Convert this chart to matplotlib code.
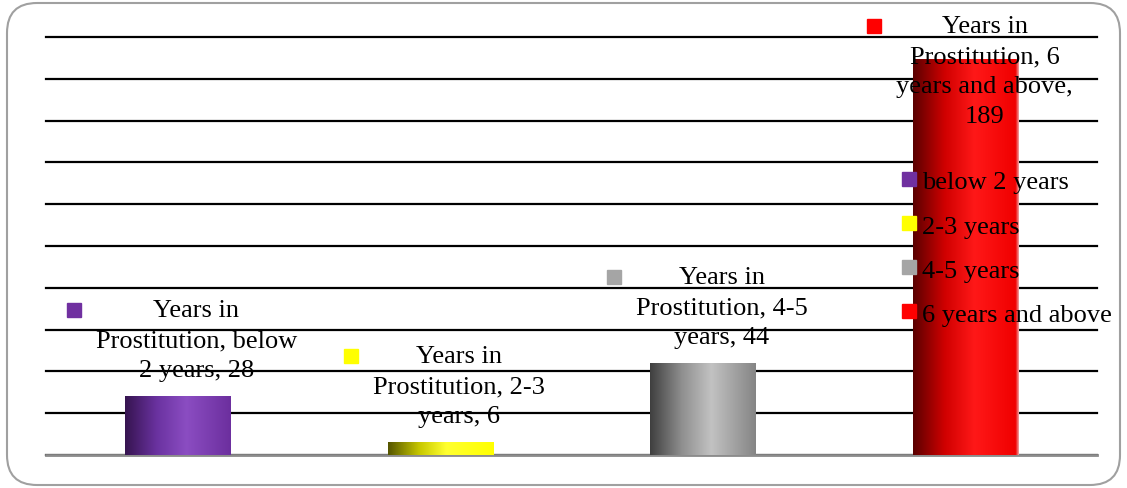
import textwrap
import matplotlib
matplotlib.use('Agg')
import matplotlib.pyplot as plt
import numpy as np
from matplotlib.colors import LinearSegmentedColormap
from matplotlib.lines import Line2D
from matplotlib.patches import FancyBboxPatch
from matplotlib.transforms import IdentityTransform

#======= Data =========================
series_name = 'Years in Prostitution'
categories = ['below 2 years', '2-3 years', '4-5 years', '6 years and above']
values = [28, 6, 44, 189]

#======= Style ========================
key_colors = ['#7030a0', '#ffff00', '#a5a5a5', '#ff0000']
gradients = [
    [(0, '#361450'), (0.3, '#6a32a0'), (0.58, '#8b4dc2'), (1, '#6c2f9e')],
    [(0, '#555500'), (0.3, '#c8c800'), (0.55, '#ffff30'), (1, '#ffff00')],
    [(0, '#3f3f3f'), (0.3, '#8f8f8f'), (0.58, '#c2c2c2'), (1, '#858585')],
    [(0, '#5a0000'), (0.3, '#d00000'), (0.58, '#ff1818'), (0.97, '#f00000'), (1, '#f0a0a0')],
]
fs = 19
plt.rcParams['font.family'] = 'Liberation Serif'

W, H = 1127, 489
fig = plt.figure(figsize=(W / 100, H / 100), dpi=100)
ax = fig.add_axes([46 / W, 33 / H, 1051 / W, 418 / H])

x = np.arange(len(categories))
bars = ax.bar(x, values, width=0.4, color='none', zorder=3)
for bar, stops in zip(bars, gradients):
    cmap = LinearSegmentedColormap.from_list('g', stops)
    x0, w, h = bar.get_x(), bar.get_width(), bar.get_height()
    ax.imshow(np.linspace(0, 1, 256)[None, :], cmap=cmap,
              extent=(x0, x0 + w, 0, h), aspect='auto', zorder=3)

ax.set_xlim(-0.5, len(categories) - 0.5)
ax.set_ylim(0, 200)
ax.set_yticks(range(0, 201, 20))
ax.set_xticks([])
ax.tick_params(length=0, labelleft=False)
ax.yaxis.grid(True, color='black', lw=1.6)
ax.set_axisbelow(True)
for gl in ax.get_ygridlines():
    gl.set_clip_on(False)
for s in ['top', 'left', 'right']:
    ax.spines[s].set_visible(False)
ax.spines['bottom'].set_color('#8c8c8c')
ax.spines['bottom'].set_linewidth(2)

# rounded chart border
border = FancyBboxPatch((7, 3), 1113, 482, boxstyle='round,pad=0,rounding_size=30',
                        transform=IdentityTransform(), fill=False, ec='#a0a0a0', lw=1.5)
fig.add_artist(border)

#======= Data labels ==================
fig.canvas.draw()
line_h = 31
labels = []
for bar, cat, val, col in zip(bars, categories, values, key_colors):
    text = '\n'.join(textwrap.wrap(f'{series_name}, {cat}, {val}', 19))
    n = text.count('\n') + 1
    cx, top = ax.transData.transform((bar.get_x() + bar.get_width() / 2, bar.get_height()))
    cy = min(top + 56, H - 10 - n * line_h / 2)
    t = ax.text(cx + 19, cy, text, transform=IdentityTransform(), ha='center', va='center',
                multialignment='center', fontsize=fs, linespacing=1.47, zorder=5)
    labels.append((t, col))

fig.canvas.draw()
renderer = fig.canvas.get_renderer()
for t, col in labels:
    bb = t.get_window_extent(renderer)
    ax.plot([bb.x0 - 22], [bb.y1 - 11], marker='s', ms=9.5, color=col, ls='none',
            transform=IdentityTransform(), clip_on=False, zorder=5)

#======= Legend =======================
handles = [Line2D([], [], ls='none', marker='s', ms=9.5, mfc=c, mec=c) for c in key_colors]
fig.legend(handles, categories, loc='upper left', bbox_to_anchor=(902 / W, (H - 171) / H),
           frameon=False, borderpad=0, borderaxespad=0, handlelength=0.5,
           handletextpad=0.25, labelspacing=0.78, fontsize=fs)

fig.savefig('out.png', dpi=100)
